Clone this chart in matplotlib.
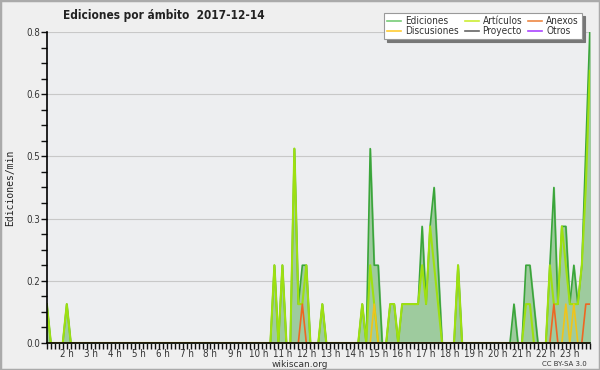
import numpy as np
import matplotlib.pyplot as plt
from matplotlib.lines import Line2D
from matplotlib.patches import Rectangle

# --- Datos (ediciones por minuto, intervalos de 10 min) ---
inicio = "01:10"
fin = "23:50"

t_total = ["01:10", "02:00", "10:40", "11:00", "11:30", "11:40", "11:50", "12:00",
           "12:40", "14:20", "14:40", "14:50", "15:00", "15:30", "15:40", "16:00",
           "16:10", "16:20", "16:30", "16:40", "16:50", "17:00", "17:10", "17:20",
           "17:30", "18:20", "20:40", "21:10", "21:20", "21:30", "22:10", "22:20",
           "22:30", "22:40", "22:50", "23:00", "23:10", "23:20", "23:30", "23:40",
           "23:50"]
v_total = [0.1, 0.1, 0.2, 0.2, 0.5, 0.1, 0.2, 0.2,
           0.1, 0.1, 0.5, 0.2, 0.2, 0.1, 0.1, 0.1,
           0.1, 0.1, 0.1, 0.1, 0.3, 0.1, 0.3, 0.4,
           0.2, 0.2, 0.1, 0.2, 0.2, 0.1, 0.2, 0.4,
           0.1, 0.3, 0.3, 0.1, 0.2, 0.1, 0.2, 0.5,
           0.8]

t_articulos = ["01:10", "02:00", "10:40", "11:00", "11:30", "11:40", "11:50", "12:00",
               "12:40", "14:20", "14:40", "14:50", "15:30", "15:40", "16:00", "16:10",
               "16:20", "16:30", "16:40", "16:50", "17:00", "17:10", "17:20", "17:30",
               "18:20", "21:10", "21:20", "22:10", "22:20", "22:30", "22:40", "22:50",
               "23:00", "23:10", "23:20", "23:30", "23:40", "23:50"]
v_articulos = [0.1, 0.1, 0.2, 0.2, 0.5, 0.1, 0.1, 0.2,
               0.1, 0.1, 0.2, 0.1, 0.1, 0.1, 0.1, 0.1,
               0.1, 0.1, 0.1, 0.2, 0.1, 0.3, 0.2, 0.1,
               0.2, 0.1, 0.1, 0.2, 0.1, 0.1, 0.3, 0.2,
               0.1, 0.1, 0.1, 0.2, 0.4, 0.7]

t_anexos = ["11:50", "22:20", "23:40", "23:50"]
v_anexos = [0.1, 0.1, 0.1, 0.1]

t_discusiones = ["14:50", "22:50", "23:10"]
v_discusiones = [0.1, 0.1, 0.1]

horas = list(range(2, 24))


def a_horas(s):
    h, m = s.split(":")
    return int(h) + int(m) / 60


def serie(tiempos, valores):
    y = np.zeros(len(x))
    for t, v in zip(tiempos, valores):
        y[int(round((a_horas(t) - x[0]) * 6))] = v
    return y


x = np.arange(a_horas(inicio), a_horas(fin) + 1e-6, 1 / 6)
total = serie(t_total, v_total)
articulos = serie(t_articulos, v_articulos)
anexos = serie(t_anexos, v_anexos)
discusiones = serie(t_discusiones, v_discusiones)

# --- Gráfico ---
fig = plt.figure(figsize=(6, 3.7), dpi=100, facecolor='#efefef')
ax = fig.add_axes([0.078, 0.073, 0.905, 0.8405])
ax.set_facecolor('#edeef0')

ax.fill_between(x, total, color='#9ecb9e', zorder=1)
ax.plot(x, total, color='#3aa53a', lw=1.2, zorder=2)
ax.plot(x, articulos, color='#9ee010', lw=1.5, zorder=2)
ax.plot(x, anexos, color='#ee6622', lw=1.2, zorder=2)
ax.plot(x, discusiones, color='#f0c419', lw=1.2, zorder=2)

ax.set_xlim(x[0], x[-1])
ax.set_ylim(0, 0.8)
yt = np.linspace(0, 0.8, 6)
ax.set_yticks(yt)
ax.set_yticklabels(['%.1f' % v for v in yt])
ax.set_yticks(np.arange(0, 0.8, 0.04), minor=True)
ax.set_xticks(horas)
ax.set_xticklabels(['%d h' % h for h in horas])
ax.set_xticks(x, minor=True)
ax.grid(axis='y', color='#c8c8c8', lw=0.8)
ax.set_axisbelow(True)

for s in ['top', 'right']:
    ax.spines[s].set_visible(False)
for s in ['left', 'bottom']:
    ax.spines[s].set_linewidth(1.2)
    ax.spines[s].set_zorder(3)
ax.tick_params(axis='both', which='major', labelsize=7, colors='#111111',
               labelcolor='#333333', length=4, width=1, pad=0.5)
ax.tick_params(axis='both', which='minor', length=4, width=1, colors='#111111')
for t in ax.get_xticklabels() + ax.get_yticklabels():
    t.set_fontstretch('condensed')

ax.set_ylabel('Ediciones/min', family='DejaVu Sans Mono', fontsize=7, labelpad=8,
              color='#222222')
fig.text(0.273, 0.957, 'Ediciones por ámbito  2017-12-14', ha='center', va='center',
         fontsize=8.5, fontweight='bold', fontstretch='condensed', color='#222222')
fig.text(0.5, 0.014, 'wikiscan.org', ha='center', va='center', fontsize=6.5,
         color='#333333')
fig.text(0.978, 0.016, 'CC BY-SA 3.0', ha='right', va='center', fontsize=5,
         color='#333333')

handles = [Line2D([], [], color='#77cc77', lw=1.2),
           Line2D([], [], color='#ffcc33', lw=1.2),
           Line2D([], [], color='#ccee33', lw=1.2),
           Line2D([], [], color='#666666', lw=1.2),
           Line2D([], [], color='#ee8844', lw=1.2),
           Line2D([], [], color='#aa44ff', lw=1.2)]
labels = ['Ediciones', 'Discusiones', 'Artículos', 'Proyecto', 'Anexos', 'Otros']
leg = fig.legend(handles, labels, ncol=3, loc='upper right',
                 bbox_to_anchor=(0.978, 0.978),
                 prop={'size': 7.2, 'stretch': 'condensed'}, frameon=True,
                 fancybox=False, shadow={'color': '#777777', 'alpha': 1},
                 handlelength=1.4, handletextpad=0.4,
                 labelspacing=0.0, columnspacing=0.6, borderpad=0.3)
leg.get_frame().set_edgecolor('#999999')
leg.get_frame().set_linewidth(0.8)
for t in leg.get_texts():
    t.set_color('#333333')

fig.patches.append(Rectangle((0, 0), 1, 1, transform=fig.transFigure, fill=False,
                             edgecolor='#aaaaaa', lw=2.5))

plt.savefig('out.png', dpi=100, facecolor=fig.get_facecolor())
